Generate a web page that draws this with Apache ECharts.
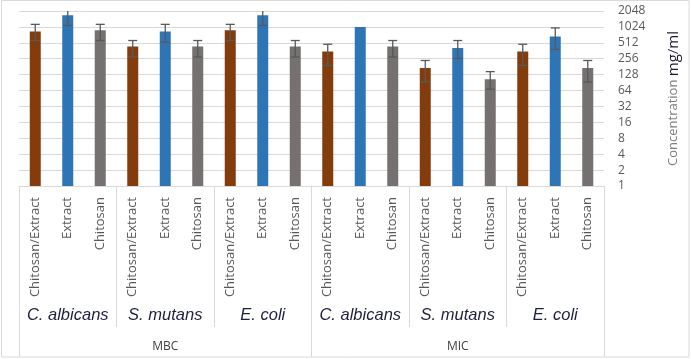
<!DOCTYPE html>
<html>
<head>
<meta charset="utf-8">
<script src="https://cdn.jsdelivr.net/npm/echarts@6/dist/echarts.min.js"></script>
<style>
html,body{margin:0;padding:0;background:#fff;}
#c{width:691px;height:359px;}
</style>
</head>
<body>
<div id="c"></div>
<script>
// ---- data ----
const treatments = ['Chitosan/Extract','Extract','Chitosan'];
const species = ['C. albicans','S. mutans','E. coli','C. albicans','S. mutans','E. coli'];
const tests = ['MBC','MIC'];
const yTicks = [1,2,4,8,16,32,64,128,256,512,1024,2048];
// bar values (mg/ml), per category in order
const values = [835, 1705, 885, 436, 838, 436, 885, 1705, 436,
                350, 1024, 436, 171, 410, 105, 350, 675, 171];
// error bar upper / lower ends (null = no bar)
const errHigh = [1145, 2400, 1145, 566, 1145, 566, 1145, 2400, 566,
                 481, null, 566, 237, 566, 146, 481, 980, 237];
const errLow  = [567, 1088, 567, 277, 527, 277, 567, 1088, 277,
                 190, null, 277, 93, 258, 68, 190, 382, 93];
const colors = ['#843C0C','#2E75B6','#767171'];

// ---- build ----
const cats = [];
for (let g = 0; g < species.length; g++) for (let t = 0; t < treatments.length; t++) cats.push(treatments[t]);
const barData = values.map((v,i)=>({value:v,itemStyle:{color:colors[i%3]}}));
const errData = values.map((v,i)=>[i, errLow[i], errHigh[i]]);

const chart = echarts.init(document.getElementById('c'));
chart.setOption({
  animation:false,
  graphic:[{type:'rect',shape:{x:1.5,y:0.5,width:687.5,height:356.5},style:{fill:'none',stroke:'#d9d9d9',lineWidth:1},silent:true}],
  grid:{left:19,right:87,top:11,bottom:173,containLabel:false},
  xAxis:[
    {type:'category',data:cats,position:'bottom',
     axisLine:{show:true,lineStyle:{color:'#d9d9d9'}},axisTick:{show:false},
     axisLabel:{rotate:90,interval:0,margin:11,color:'#595959',fontSize:13,fontFamily:'Open Sans, Noto Sans, sans-serif'}},
    {type:'category',data:species,position:'bottom',
     axisLine:{show:false},
     axisTick:{show:true,length:141,lineStyle:{color:'#d9d9d9'}},
     axisLabel:{interval:0,margin:121,color:'#1f1f3f',fontSize:16.5,fontStyle:'italic',fontFamily:'Liberation Sans, Arial, sans-serif'}},
    {type:'category',data:tests,position:'bottom',
     axisLine:{show:false},
     axisTick:{show:true,length:171,lineStyle:{color:'#d9d9d9'}},
     axisLabel:{interval:0,margin:155,color:'#404040',fontSize:12,fontFamily:'Open Sans, Noto Sans, sans-serif'}}
  ],
  yAxis:{type:'log',logBase:2,min:1,max:2048,interval:1,position:'right',
    axisLine:{show:false},axisTick:{show:false},
    splitLine:{show:true,lineStyle:{color:'#d9d9d9',width:1}},
    axisLabel:{margin:14,color:'#595959',fontSize:12,align:'left',fontFamily:'Open Sans, Noto Sans, sans-serif',
      formatter:v=>String(Math.round(v))},
    name:'{a|Concentration }{b|mg/ml}',nameLocation:'middle',nameRotate:90,nameGap:62,
    nameTextStyle:{rich:{a:{color:'#7f7f7f',fontSize:13,fontFamily:'Open Sans, Noto Sans, sans-serif'},b:{color:'#1a1a2e',fontSize:15,fontFamily:'Open Sans, Noto Sans, sans-serif'}}}
  },
  series:[
    {type:'bar',xAxisIndex:0,data:barData,barWidth:11},
    {type:'custom',xAxisIndex:0,data:errData,clip:true,z:10,
     renderItem:(params,api)=>{
       const lo=api.value(1), hi=api.value(2);
       if(lo==null||hi==null||isNaN(lo)||isNaN(hi)) return null;
       const p1=api.coord([api.value(0),hi]);
       const p2=api.coord([api.value(0),lo]);
       const w=4.5;
       const st={stroke:'#595959',lineWidth:1.3};
       return {type:'group',children:[
         {type:'line',shape:{x1:p1[0],y1:p1[1],x2:p2[0],y2:p2[1]},style:st},
         {type:'line',shape:{x1:p1[0]-w,y1:p1[1],x2:p1[0]+w,y2:p1[1]},style:st},
         {type:'line',shape:{x1:p2[0]-w,y1:p2[1],x2:p2[0]+w,y2:p2[1]},style:st}
       ]};
     }}
  ]
});
</script>
</body>
</html>
